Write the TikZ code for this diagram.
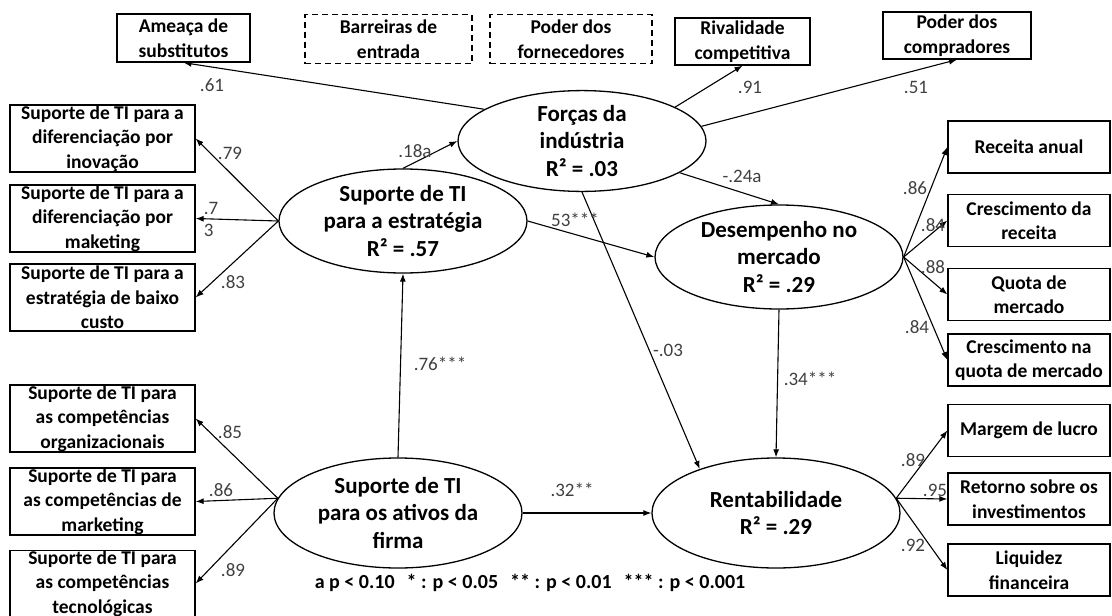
\documentclass[tikz,border=0pt]{standalone}
\usepackage{fontspec}
\setmainfont{Carlito}
\usetikzlibrary{shapes.geometric,arrows.meta}

\tikzset{
  caixa/.style={draw,line width=1.3pt,rectangle,inner sep=0pt,align=center,font=\bfseries\fontsize{19.5}{24.5}\selectfont},
  tracejada/.style={caixa,dash pattern=on 6pt off 4pt},
  latente/.style={draw,line width=1.3pt,ellipse,inner sep=0pt,align=center,font=\bfseries\fontsize{23}{27.5}\selectfont},
  seta/.style={line width=1.1pt,-{Latex[length=8pt,width=6pt]}},
  coef/.style={font=\fontsize{19}{22}\selectfont,text=black!75,inner sep=0pt},
}

\begin{document}
\begin{tikzpicture}[x=1pt,y=-1pt]

\useasboundingbox (0,0) rectangle (1112,616);

% cinco forcas
\node[caixa,minimum width=133,minimum height=48] (ameaca) at (183.5,38) {Ameaça de\\substitutos};
\node[tracejada,minimum width=167,minimum height=49] (barreiras) at (388.5,39) {Barreiras de\\entrada};
\node[tracejada,minimum width=162,minimum height=49] (fornec) at (571,39) {Poder dos\\fornecedores};
\node[caixa,minimum width=135,minimum height=47] (rival) at (742.5,41.5) {Rivalidade\\competitiva};
\node[caixa,minimum width=148,minimum height=47] (compr) at (957,35.5) {Poder dos\\compradores};

% indicadores da esquerda
\node[caixa,minimum width=185,minimum height=67] (inov) at (102.5,138.5) {Suporte de TI para a\\diferenciação por\\inovação};
\node[caixa,minimum width=185,minimum height=67] (mkt) at (102.5,218.5) {Suporte de TI para a\\diferenciação por\\maketing};
\node[caixa,minimum width=185,minimum height=67] (custo) at (102.5,297.5) {Suporte de TI para a\\estratégia de baixo\\custo};
\node[caixa,minimum width=185,minimum height=67] (org) at (102.5,418.5) {Suporte de TI para\\as competências\\organizacionais};
\node[caixa,minimum width=185,minimum height=67] (mktc) at (102.5,501.5) {Suporte de TI para\\as competências de\\marketing};
\node[caixa,minimum width=185,minimum height=65] (tec) at (102.5,583.5) {Suporte de TI para\\as competências\\tecnológicas};

% indicadores da direita
\node[caixa,minimum width=162,minimum height=52] (receita) at (1029,147) {Receita anual};
\node[caixa,minimum width=162,minimum height=52] (cresrec) at (1029,220.5) {Crescimento da\\receita};
\node[caixa,minimum width=162,minimum height=52] (quota) at (1029,294.5) {Quota de\\mercado};
\node[caixa,minimum width=162,minimum height=52] (cresquota) at (1029,360) {Crescimento na\\quota de mercado};
\node[caixa,minimum width=162,minimum height=52] (margem) at (1029,430.5) {Margem de lucro};
\node[caixa,minimum width=162,minimum height=52] (retorno) at (1029,499) {Retorno sobre os\\investimentos};
\node[caixa,minimum width=162,minimum height=52] (liquidez) at (1029,570) {Liquidez\\financeira};

% construtos
\node[latente,minimum width=248,minimum height=98] (forcas) at (582,141) {Forças da\\indústria\\R² = .03};
\node[latente,minimum width=248,minimum height=104] (estrat) at (403,221) {Suporte de TI\\para a estratégia\\R² = .57};
\node[latente,minimum width=248,minimum height=104] (desemp) at (779,257) {Desempenho no\\mercado\\R² = .29};
\node[latente,minimum width=248,minimum height=110] (ativos) at (398,513) {Suporte de TI\\para os ativos da\\firma};
\node[latente,minimum width=248,minimum height=110] (rentab) at (776,513) {Rentabilidade\\R² = .29};

% setas
\draw[seta] (forcas.162) -- (ameaca.south);
\draw[seta] (forcas.20) -- (rival.south);
\draw[seta] (forcas.7) -- (compr.south);

\draw[seta] (estrat.west) -- (inov.east);
\draw[seta] (estrat.west) -- (mkt.east);
\draw[seta] (estrat.west) -- (custo.east);
\draw[seta] (ativos.173) -- (org.east);
\draw[seta] (ativos.173) -- (mktc.east);
\draw[seta] (ativos.173) -- (tec.east);

\draw[seta] (desemp.east) -- (receita.west);
\draw[seta] (desemp.east) -- (cresrec.west);
\draw[seta] (desemp.east) -- (quota.west);
\draw[seta] (desemp.east) -- (cresquota.west);
\draw[seta] (rentab.7) -- (margem.west);
\draw[seta] (rentab.7) -- (retorno.west);
\draw[seta] (rentab.7) -- (liquidez.west);

\draw[seta] (estrat.north) -- (forcas.west);
\draw[seta] (estrat.east) -- (desemp.west);
\draw[seta] (forcas.-18) -- (desemp.north);
\draw[seta] (forcas.south) -- (rentab.150);
\draw[seta] (desemp.south) -- (rentab.north);
\draw[seta] (ativos.north) -- (estrat.south);
\draw[seta] (ativos.east) -- (rentab.west);

% coeficientes
\node[coef] (c61) at (212,85) {.61};
\node[coef] (c91) at (750,87) {.91};
\node[coef] (c51) at (916,87) {.51};
\node[coef] (c79) at (230,153) {.79};
\node[coef,align=left] (c73) at (211,219) {.7\\3};
\node[coef] (c83) at (233,282) {.83};
\node[coef] (c85) at (230,432) {.85};
\node[coef] (c86e) at (221,490) {.86};
\node[coef] (c89e) at (233,570) {.89};
\node[coef] (c86) at (915,188) {.86};
\node[coef] (c84a) at (933,225) {.84};
\node[coef] (c88) at (933,267) {.88};
\node[coef] (c84b) at (917,327) {.84};
\node[coef] (c89) at (913,460) {.89};
\node[coef] (c95) at (935,490) {.95};
\node[coef] (c92) at (913,545) {.92};
\node[coef] (c18) at (415,151) {.18a};
\node[coef] (c53) at (575,220) {53***};
\node[coef] (c24) at (742,176) {-.24a};
\node[coef] (c03) at (668,350) {-.03};
\node[coef] (c76) at (440,364) {.76***};
\node[coef] (c34) at (810,379) {.34***};
\node[coef] (c32) at (572,490) {.32**};

\node[font=\bfseries\fontsize{20}{24}\selectfont,inner sep=0pt] (legenda) at (530,583) {a p < 0.10\hspace{0.6em}* : p < 0.05\hspace{0.6em}** : p < 0.01\hspace{0.6em}*** : p < 0.001};

\end{tikzpicture}
\end{document}
